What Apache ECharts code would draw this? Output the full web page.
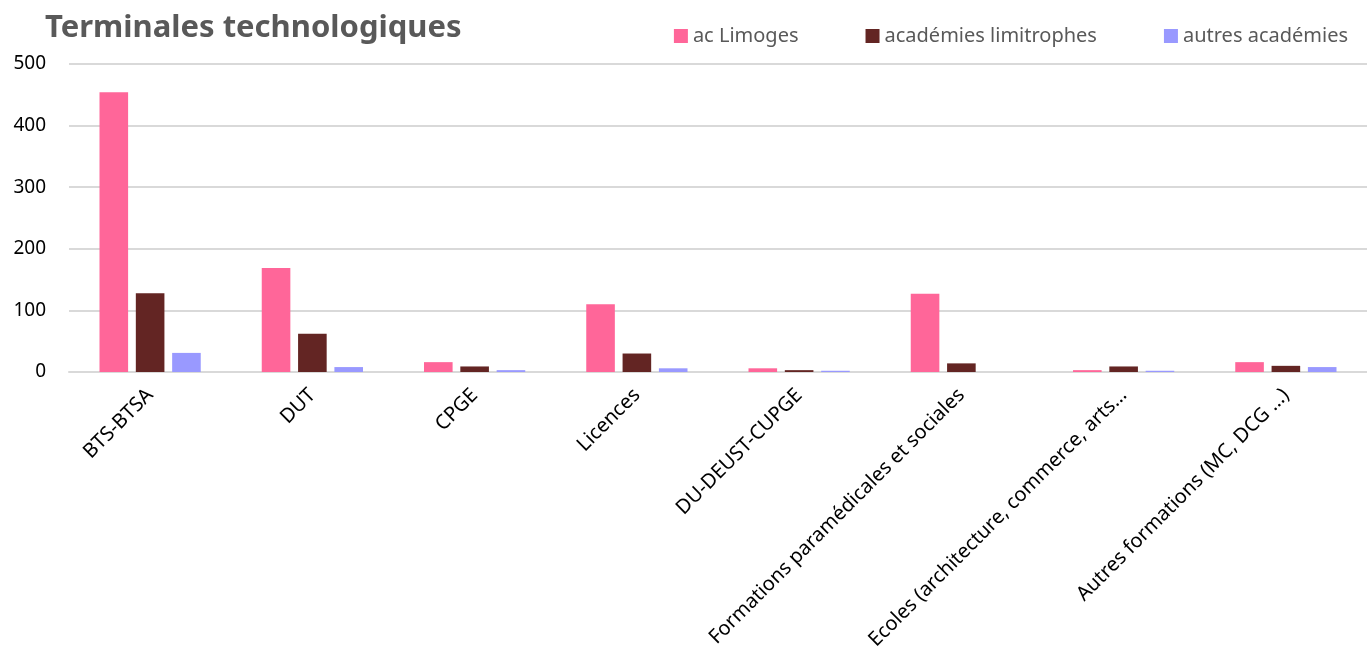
<!DOCTYPE html>
<html><head><meta charset="utf-8">
<script src="https://cdn.jsdelivr.net/npm/echarts@6/dist/echarts.min.js"></script>
<style>html,body{margin:0;padding:0;background:#fff}#c{width:1367px;height:658px}</style>
</head><body><div id="c"></div>
<script>
const categories = ['BTS-BTSA','DUT','CPGE','Licences','DU-DEUST-CUPGE','Formations paramédicales et sociales','Ecoles (architecture, commerce, arts…','Autres formations (MC, DCG …)'];
const acLimoges = [454, 169, 16, 110, 6, 127, 3, 16];
const academiesLimitrophes = [128, 62, 9, 30, 3, 14, 9, 10];
const autresAcademies = [31, 8, 3, 6, 2, 0, 2, 8];
const yTicks = {min: 0, max: 500, interval: 100};

const chart = echarts.init(document.getElementById('c'));
const font = 'Noto Sans';
chart.setOption({
  animation: false,
  title: {text: 'Terminales technologiques', left: 40, top: 8,
    textStyle: {fontFamily: font, fontSize: 31, fontWeight: 'bold', color: '#595959'}},
  legend: {right: 14, top: 21, icon: 'rect', itemWidth: 14, itemHeight: 14, itemGap: 67,
    textStyle: {fontFamily: font, fontSize: 20, color: '#595959'},
    data: ['ac Limoges','académies limitrophes','autres académies']},
  grid: {left: 69, right: -11, top: 64, bottom: 286, containLabel: false},
  xAxis: {type: 'category', data: categories,
    axisLine: {lineStyle: {color: '#d9d9d9', width: 2}}, axisTick: {show: false},
    axisLabel: {rotate: 45, interval: 0, fontFamily: font, fontSize: 20, color: '#000', margin: 20}},
  yAxis: {type: 'value', min: yTicks.min, max: yTicks.max, interval: yTicks.interval,
    axisLine: {show: false}, axisTick: {show: false},
    axisLabel: {fontFamily: font, fontSize: 19, color: '#000', margin: 23},
    splitLine: {lineStyle: {color: '#d9d9d9', width: 2}}},
  series: [
    {name: 'ac Limoges', type: 'bar', data: acLimoges, itemStyle: {color: '#FF6699'}, barGap: '27%', barCategoryGap: '37.6%'},
    {name: 'académies limitrophes', type: 'bar', data: academiesLimitrophes, itemStyle: {color: '#632523'}},
    {name: 'autres académies', type: 'bar', data: autresAcademies, itemStyle: {color: '#9999FF'}}
  ]
});
</script></body></html>
